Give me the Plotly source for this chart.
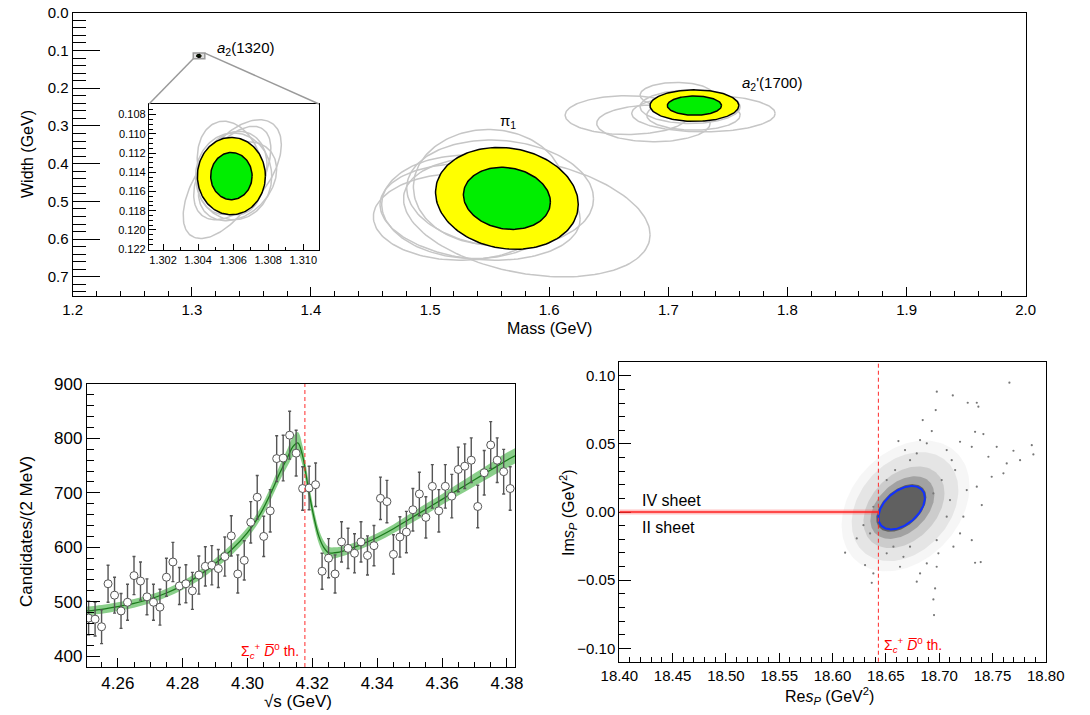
import numpy as np
import plotly.graph_objects as go

FONT = "Liberation Sans, Arial, Helvetica, sans-serif"

# ===================== TOP PANEL DATA =====================
# Pole parameters: mass, width (GeV), 1-sigma errors, correlation
res_label = ["<i>a</i><sub>2</sub>(1320)", "π<sub>1</sub>", "<i>a</i><sub>2</sub>'(1700)"]
res_mass = [1.3059, 1.5645, 1.7219]
res_width = [0.1144, 0.4920, 0.2462]
res_sig_mass = [0.00078, 0.0241, 0.0150]
res_sig_width = [0.00162, 0.0543, 0.0168]
res_rho = [0.0, 0.12, 0.0]
cl_scale = [2.486, 1.515]          # 95% / 68% CL contours (2D)

# Systematic variations (gray contours): mass, width, half-extents, correlation
a2_sys_m = [1.30565, 1.30625, 1.30603, 1.30594, 1.30625, 1.30584]
a2_sys_w = [0.11506, 0.11374, 0.11443, 0.11408, 0.11495, 0.11356]
a2_sys_dm = [0.0025, 0.0025, 0.00217, 0.00199, 0.00223, 0.00189]
a2_sys_dw = [0.00584, 0.00521, 0.00452, 0.00434, 0.0041, 0.00487]
a2_sys_rho = [-0.6, -0.5, 0.0, -0.2, -0.3, 0.2]

pi_sys_m = [1.5812, 1.5252, 1.5336, 1.5490, 1.5588, 1.5420]
pi_sys_w = [0.541, 0.541, 0.5146, 0.4615, 0.479, 0.5279]
pi_sys_dm = [0.1035, 0.0728, 0.0742, 0.063, 0.0784, 0.084]
pi_sys_dw = [0.159, 0.115, 0.137, 0.152, 0.1415, 0.128]
pi_sys_rho = [0.3, 0.0, 0.05, 0.0, 0.1, 0.15]

ap_sys_m = [1.6652, 1.6875, 1.7295, 1.7183, 1.7071, 1.7211]
ap_sys_w = [0.2714, 0.2934, 0.2669, 0.2493, 0.2183, 0.2714]
ap_sys_dm = [0.0518, 0.0476, 0.0602, 0.042, 0.0308, 0.0392]
ap_sys_dw = [0.0513, 0.0486, 0.0486, 0.0442, 0.0336, 0.0398]
ap_sys_rho = [0.0, 0.0, 0.0, 0.0, 0.0, 0.0]

# Zoom window of the inset (GeV)
inset_mass_range = [1.3012, 1.3109]
inset_width_range = [0.1221, 0.1069]

# ===================== BOTTOM-LEFT DATA =====================
sqrt_s = [4.251, 4.253, 4.255, 4.257, 4.259, 4.261, 4.263, 4.265, 4.267, 4.269,
          4.271, 4.273, 4.275, 4.277, 4.279, 4.281, 4.283, 4.285, 4.287, 4.289,
          4.291, 4.293, 4.295, 4.297, 4.299, 4.301, 4.303, 4.305, 4.307, 4.309,
          4.311, 4.313, 4.315, 4.317, 4.319, 4.321, 4.323, 4.325, 4.327, 4.329,
          4.331, 4.333, 4.335, 4.337, 4.339, 4.341, 4.343, 4.345, 4.347, 4.349,
          4.351, 4.353, 4.355, 4.357, 4.359, 4.361, 4.363, 4.365, 4.367, 4.369,
          4.371, 4.373, 4.375, 4.377, 4.379, 4.381]
counts = [470, 468, 454, 533, 512, 483, 499, 548, 538, 509,
          499, 490, 545, 573, 529, 533, 520, 549, 565, 567,
          561, 583, 621, 551, 576, 646, 692, 620, 667, 763,
          764, 806, 773, 708, 709, 715, 556, 580, 551, 610,
          598, 589, 610, 585, 603, 690, 684, 587, 619, 628,
          669, 698, 655, 712, 667, 712, 694, 743, 749, 760,
          675, 737, 788, 760, 739, 708]
count_err = [31, 31, 31, 34, 33, 32, 33, 35, 35, 33,
             33, 33, 35, 36, 34, 35, 34, 35, 36, 36,
             35, 36, 37, 35, 36, 38, 40, 37, 39, 42,
             42, 44, 42, 40, 40, 40, 33, 36, 35, 37,
             37, 36, 37, 36, 37, 39, 39, 36, 37, 38,
             39, 40, 38, 40, 39, 40, 40, 41, 41, 41,
             39, 41, 43, 41, 41, 40]
fit_x = [4.2505, 4.255, 4.260, 4.265, 4.270, 4.275, 4.280, 4.285, 4.290, 4.295,
         4.300, 4.304, 4.307, 4.310, 4.3125, 4.314, 4.3155, 4.317, 4.318, 4.319,
         4.3205, 4.322, 4.3235, 4.325, 4.327, 4.330, 4.335, 4.340, 4.345, 4.350,
         4.355, 4.360, 4.365, 4.370, 4.375, 4.380, 4.3825]
fit_y = [483, 486, 491, 497, 505, 516, 530, 548, 570, 595,
         627, 662, 697, 737, 767, 785, 792, 768, 735, 700,
         655, 620, 600, 590, 590, 594, 605, 618, 634, 652,
         670, 688, 706, 724, 742, 760, 768]
fit_band = [8, 8, 8, 8, 8, 8, 8, 9, 9, 10,
            10, 11, 12, 14, 16, 18, 20, 18, 16, 15,
            14, 13, 12, 11, 10, 9, 8, 8, 8, 9,
            10, 10, 11, 12, 13, 14, 14]
thr_sqrt_s = 4.3177

# ===================== BOTTOM-RIGHT DATA =====================
thr_s = 18.643
pole_re, pole_im, pole_hre, pole_him, pole_rho = 18.6648, 0.0032, 0.0218, 0.0159, 0.45
# density levels of the sampled pole positions (outer -> inner)
dens_re = [18.6685, 18.6680, 18.6670, 18.6655, 18.6645]
dens_im = [0.0045, 0.0040, 0.0035, 0.0033, 0.0030]
dens_hre = [0.060, 0.050, 0.038, 0.030, 0.0235]
dens_him = [0.048, 0.040, 0.030, 0.023, 0.0175]
dens_rho = [0.3, 0.3, 0.35, 0.4, 0.45]
# sparse samples outside the dense core
samp_re = [18.7659, 18.6978, 18.7128, 18.6968, 18.7268, 18.7353, 18.7368, 18.6846, 18.6931, 18.7337,
           18.7415, 18.6618, 18.6821, 18.7196, 18.7306, 18.7697, 18.7884, 18.7540, 18.7634, 18.7759,
           18.7400, 18.7493, 18.7603, 18.7353, 18.7306, 18.7390, 18.6977, 18.6962, 18.6946, 18.6952,
           18.6118, 18.6290, 18.6305, 18.6368, 18.6383, 18.6821, 18.6884, 18.6665, 18.6571, 18.7134,
           18.7196, 18.7071, 18.7227, 18.6727, 18.6680, 18.7118, 18.7071, 18.7150, 18.7259, 18.7024,
           18.6587, 18.6508, 18.6383, 18.6352, 18.6227, 18.6508, 18.6727, 18.6977, 18.7102, 18.6946,
           18.6790, 18.6884, 18.7462, 18.6993, 18.6633, 18.6790, 18.7869, 18.7337]
samp_im = [0.0949, 0.0883, 0.0856, 0.0748, 0.0802, 0.0802, 0.0773, 0.0675, 0.0594, 0.0589,
           0.0572, 0.0521, 0.0528, 0.0516, 0.0479, 0.0450, 0.0423, 0.0479, 0.0357, 0.0381,
           0.0051, 0.0259, 0.0284, 0.0186, -0.0206, -0.0367, -0.0401, -0.0560, -0.0641, -0.0756,
           -0.0298, -0.0096, -0.0389, -0.0519, -0.0450, -0.0450, -0.0377, -0.0328, -0.0254, -0.0254,
           -0.0157, -0.0034, -0.0034, 0.0381, 0.0455, 0.0381, 0.0455, 0.0308, 0.0161, 0.0235,
           0.0308, 0.0235, 0.0039, -0.0157, -0.0193, -0.0303, -0.0254, -0.0206, 0.0088, 0.0137,
           0.0430, 0.0504, 0.0406, -0.0303, -0.0401, -0.0511, 0.0491, -0.0372]


def ellipse_xy(cx, cy, hx, hy, rho, n=160):
    t = np.linspace(0, 2 * np.pi, n)
    return (cx + hx * np.cos(t),
            cy + hy * (rho * np.cos(t) + np.sqrt(1 - rho ** 2) * np.sin(t)))


# ----------------- layout geometry -----------------
DOM = {
    "top_x": [0.0667, 0.9410], "top_y": [0.5864, 0.9822],
    "ins_x": [0.1367, 0.2927], "ins_y": [0.6503, 0.8545],
    "bl_x": [0.0798, 0.4725], "bl_y": [0.0671, 0.4629],
    "br_x": [0.5682, 0.9594], "br_y": [0.0745, 0.4941],
}
TOP_XR = [1.2, 2.0]
TOP_YR = [0.75, 0.0]

fig = go.Figure()

GRAY = "#c6c6c6"
YEL = "#ffff00"
GRN = "#00ee00"

sys_sets = [
    (a2_sys_m, a2_sys_w, a2_sys_dm, a2_sys_dw, a2_sys_rho),
    (pi_sys_m, pi_sys_w, pi_sys_dm, pi_sys_dw, pi_sys_rho),
    (ap_sys_m, ap_sys_w, ap_sys_dm, ap_sys_dw, ap_sys_rho),
]


def add_resonance(i, xa, ya, with_sys=True, lw=1.5):
    if with_sys:
        m, w, dm, dw, rr = sys_sets[i]
        for k in range(len(m)):
            ex, ey = ellipse_xy(m[k], w[k], dm[k], dw[k], rr[k])
            fig.add_trace(go.Scatter(x=ex, y=ey, mode="lines", xaxis=xa, yaxis=ya,
                                     line=dict(color=GRAY, width=1.5), hoverinfo="skip"))
    for k, col in zip(cl_scale, [YEL, GRN]):
        ex, ey = ellipse_xy(res_mass[i], res_width[i], k * res_sig_mass[i],
                            k * res_sig_width[i], res_rho[i])
        fig.add_trace(go.Scatter(x=ex, y=ey, mode="lines", fill="toself", fillcolor=col,
                                 xaxis=xa, yaxis=ya, line=dict(color="black", width=lw),
                                 hoverinfo="skip"))


# top main panel
add_resonance(1, "x", "y")
add_resonance(2, "x", "y")
add_resonance(0, "x", "y", with_sys=False, lw=1.2)
# inset
add_resonance(0, "x2", "y2")

# ----------------- bottom-left -----------------
lo = [y - b for y, b in zip(fit_y, fit_band)]
hi = [y + b for y, b in zip(fit_y, fit_band)]
fig.add_trace(go.Scatter(x=fit_x, y=lo, mode="lines", line=dict(width=0, shape="spline"),
                         xaxis="x3", yaxis="y3", hoverinfo="skip"))
fig.add_trace(go.Scatter(x=fit_x, y=hi, mode="lines", line=dict(width=0, shape="spline"),
                         fill="tonexty", fillcolor="rgba(60,175,60,0.6)",
                         xaxis="x3", yaxis="y3", hoverinfo="skip"))
fig.add_trace(go.Scatter(x=fit_x, y=fit_y, mode="lines",
                         line=dict(color="#1b7a1b", width=1.3, shape="spline"),
                         xaxis="x3", yaxis="y3", hoverinfo="skip"))
fig.add_trace(go.Scatter(x=sqrt_s, y=counts, mode="markers", xaxis="x3", yaxis="y3",
                         error_y=dict(type="data", array=count_err, color="#555555",
                                      thickness=1.4, width=1.5),
                         marker=dict(symbol="circle", size=8, color="white",
                                     line=dict(color="#555555", width=1))))

# ----------------- bottom-right -----------------
dens_fill = ["rgba(140,140,140,0.08)", "rgba(130,130,130,0.14)", "rgba(120,120,120,0.22)",
             "rgba(105,105,105,0.42)", "rgba(96,96,96,1.0)"]
for k in range(len(dens_re)):
    ex, ey = ellipse_xy(dens_re[k], dens_im[k], dens_hre[k], dens_him[k], dens_rho[k])
    fig.add_trace(go.Scatter(x=ex, y=ey, mode="lines", fill="toself", fillcolor=dens_fill[k],
                             line=dict(width=0), xaxis="x4", yaxis="y4", hoverinfo="skip"))
fig.add_trace(go.Scatter(x=samp_re, y=samp_im, mode="markers", xaxis="x4", yaxis="y4",
                         marker=dict(size=2.2, color="#777777"), hoverinfo="skip"))
ex, ey = ellipse_xy(pole_re, pole_im, pole_hre, pole_him, pole_rho)
fig.add_trace(go.Scatter(x=ex, y=ey, mode="lines", line=dict(color="#1030ff", width=2),
                         xaxis="x4", yaxis="y4", hoverinfo="skip"))

# ----------------- axes -----------------
def ax(domain, rng, dtick, tick0, fmt, ticklen, mdtick, mticklen, size, anchor):
    return dict(domain=domain, range=rng, dtick=dtick, tick0=tick0, tickformat=fmt,
                ticks="inside", ticklen=ticklen, tickwidth=1, tickcolor="black",
                showline=True, linecolor="black", linewidth=1.2, mirror=True,
                showgrid=False, zeroline=False, anchor=anchor, automargin=False,
                tickfont=dict(family=FONT, size=size, color="black"),
                minor=dict(dtick=mdtick, ticks="inside", ticklen=mticklen, tickcolor="black",
                           showgrid=False))


fig.update_layout(
    width=1090, height=715,
    margin=dict(l=0, r=0, t=0, b=0, pad=0, autoexpand=False),
    paper_bgcolor="white", plot_bgcolor="white", showlegend=False,
    font=dict(family=FONT, color="black"),
    xaxis=ax(DOM["top_x"], TOP_XR, 0.1, 1.2, ".1f", 9, 0.02, 5, 15, "y"),
    yaxis=ax(DOM["top_y"], TOP_YR, 0.1, 0.0, ".1f", 27, 0.02, 13, 15, "x"),
    xaxis2=ax(DOM["ins_x"], inset_mass_range, 0.002, 1.302, ".3f", 6, 0.001, 3, 11, "y2"),
    yaxis2=ax(DOM["ins_y"], inset_width_range, 0.002, 0.108, ".3f", 7, 0.0005, 4, 11, "x2"),
    xaxis3=ax(DOM["bl_x"], [4.2505, 4.3825], 0.02, 4.26, ".2f", 9, 0.005, 5, 17, "y3"),
    yaxis3=ax(DOM["bl_y"], [380, 900], 100, 400, "d", 13, 20, 7, 17, "x3"),
    xaxis4=ax(DOM["br_x"], [18.40, 18.80], 0.05, 18.40, ".2f", 9, 0.01, 5, 15, "y4"),
    yaxis4=ax(DOM["br_y"], [-0.1098, 0.1103], 0.05, 0.0, ".2f", 12, 0.01, 6, 15, "x4"),
)

# ----------------- shapes -----------------
def px_x(v, rng, dom):
    return dom[0] + (v - rng[0]) / (rng[1] - rng[0]) * (dom[1] - dom[0])


bx0 = px_x(inset_mass_range[0], TOP_XR, DOM["top_x"])
bx1 = px_x(inset_mass_range[1], TOP_XR, DOM["top_x"])
by_low = px_x(inset_width_range[0], TOP_YR, DOM["top_y"])
by_high = px_x(inset_width_range[1], TOP_YR, DOM["top_y"])
DASH = "4px,3px"
shapes = [
    dict(type="rect", xref="x", yref="y", x0=inset_mass_range[0], x1=inset_mass_range[1],
         y0=inset_width_range[0], y1=inset_width_range[1],
         line=dict(color="#9a9a9a", width=1.5), fillcolor="rgba(190,190,190,0.5)", layer="below"),
    dict(type="line", xref="paper", yref="paper", x0=bx0, y0=by_low,
         x1=DOM["ins_x"][0], y1=DOM["ins_y"][1], line=dict(color="#9a9a9a", width=1.5)),
    dict(type="line", xref="paper", yref="paper", x0=bx1, y0=by_high,
         x1=DOM["ins_x"][1], y1=DOM["ins_y"][1], line=dict(color="#9a9a9a", width=1.5)),
    # threshold lines
    dict(type="line", xref="x3", yref="y3 domain", x0=thr_sqrt_s, x1=thr_sqrt_s, y0=0, y1=1,
         line=dict(color="#ff2a2a", width=1, dash=DASH)),
    dict(type="line", xref="x4", yref="y4 domain", x0=thr_s, x1=thr_s, y0=0, y1=1,
         line=dict(color="#ff2a2a", width=1, dash=DASH)),
    # cut between sheets
    dict(type="rect", xref="x4", yref="y4", x0=18.40, x1=thr_s, y0=-0.0018, y1=0.0018,
         line=dict(width=0), fillcolor="rgba(255,80,80,0.35)"),
    dict(type="line", xref="x4", yref="y4", x0=18.40, x1=thr_s, y0=0, y1=0,
         line=dict(color="#ff2020", width=1.5)),
]
fig.update_layout(shapes=shapes)

# ----------------- annotations -----------------
def ann(text, x, y, xref, yref, size, xanchor="center", yanchor="middle", angle=0, color="black"):
    return dict(text=text, x=x, y=y, xref=xref, yref=yref, showarrow=False,
                xanchor=xanchor, yanchor=yanchor, textangle=angle,
                font=dict(family=FONT, size=size, color=color))


thr_label = "Σ<sub><i>c</i></sub><sup>+</sup> <i>D\u0305</i><sup>0</sup> th."
annotations = [
    ann(res_label[0], 1.3195, 0.094, "x", "y", 15, xanchor="left"),
    ann(res_label[1], 1.5656, 0.287, "x", "y", 15),
    ann(res_label[2], 1.7603, 0.1865, "x", "y", 15, xanchor="left"),
    ann("Width (GeV)", 27 / 1090, 1 - 154 / 715, "paper", "paper", 16, angle=-90),
    ann("Mass (GeV)", 549 / 1090, 1 - 328 / 715, "paper", "paper", 16),
    ann("Candidates/(2 MeV)", 26 / 1090, 1 - 532 / 715, "paper", "paper", 17, angle=-90),
    ann("√s (GeV)", 298 / 1090, 1 - 701 / 715, "paper", "paper", 17),
    ann("Re<i>s</i><sub><i>P</i></sub> (GeV<sup>2</sup>)", 829 / 1090, 1 - 696 / 715,
        "paper", "paper", 16),
    ann("Im<i>s</i><sub><i>P</i></sub> (GeV<sup>2</sup>)", 568 / 1090, 1 - 513 / 715,
        "paper", "paper", 16, angle=-90),
    ann(thr_label, thr_sqrt_s - 0.0012, 410, "x3", "y3", 14, xanchor="right", color="red"),
    ann(thr_label, thr_s + 0.003, -0.0975, "x4", "y4", 14, xanchor="left", color="red"),
    ann("IV sheet", 18.419, 0.0088, "x4", "y4", 16, xanchor="left"),
    ann("II sheet", 18.419, -0.0115, "x4", "y4", 16, xanchor="left"),
]
fig.update_layout(annotations=annotations)

fig.write_html("out.html")
